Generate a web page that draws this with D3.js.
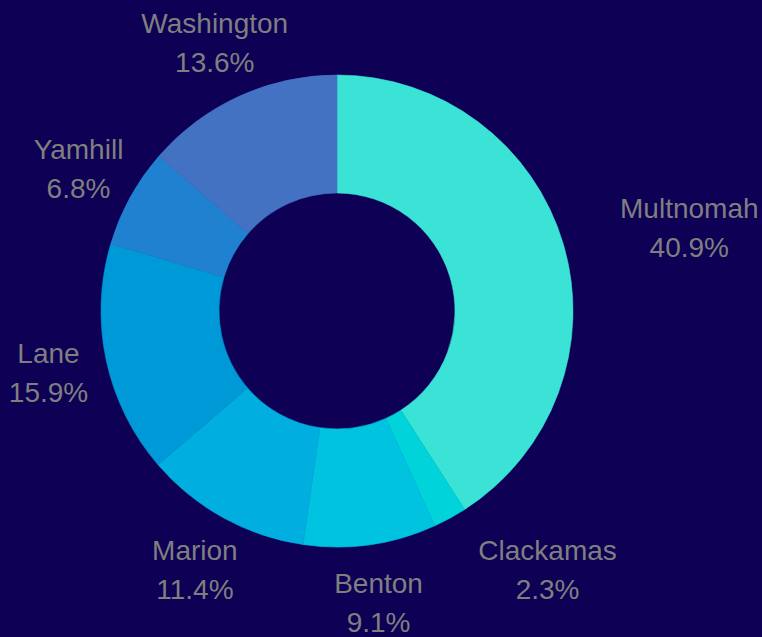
<!DOCTYPE html>
<html>
<head>
<meta charset="utf-8">
<script src="https://cdn.jsdelivr.net/npm/d3@7/dist/d3.min.js"></script>
<style>
  html, body { margin: 0; padding: 0; background: #0e0055; }
  svg { display: block; }
</style>
</head>
<body>
<svg width="762" height="637"></svg>
<script>
let counties = ["Multnomah", "Clackamas", "Benton", "Marion", "Lane", "Yamhill", "Washington"];
let shares = [40.9, 2.3, 9.1, 11.4, 15.9, 6.8, 13.6];
let colors = ["#3be3d6", "#00d3d9", "#00c3e0", "#00aee0", "#0099d8", "#2081d0", "#4472c3"];

let data = counties.map((name, i) => ({name: name, value: shares[i], color: colors[i]}));

let svg = d3.select("svg");
let width = 762, height = 637;
let cx = 337, cy = 311;
let outer = 236, inner = 118;

let pie = d3.pie()
	.value(d => d.value)
	.sort(null);

let arc = d3.arc()
	.innerRadius(inner)
	.outerRadius(outer);

let labelArc = d3.arc()
	.innerRadius(outer * 1.25)
	.outerRadius(outer * 1.25);

let g = svg.append("g")
	.attr("transform", `translate(${cx},${cy})`);

let arcs = pie(data);

g.selectAll("path").data(arcs).enter().append("path")
	.attr("d", arc)
	.attr("fill", d => d.data.color)
	.attr("stroke", d => d.data.color)
	.attr("stroke-width", 0.6);

let labels = g.selectAll("g.label").data(arcs).enter().append("g")
	.attr("class", "label")
	.attr("transform", d => `translate(${labelArc.centroid(d)})`)
	.attr("font-family", "'Liberation Sans', Arial, sans-serif")
	.attr("font-size", 28)
	.attr("fill", "#7f7f7f");

let lineTexts = labels.selectAll("text")
	.data(d => [d.data.name, d.data.value.toFixed(1) + "%"])
	.enter().append("text")
	.attr("text-anchor", "middle")
	.attr("y", (d, i) => i === 0 ? -19.5 : 19.5)
	.attr("dy", "0.35em")
	.text(d => d);

// right-hand labels: block starts at the anchor point, lines centred inside it
labels.each(function(d) {
	let mid = (d.startAngle + d.endAngle) / 2;
	let texts = d3.select(this).selectAll("text");
	let w = d3.max(texts.nodes(), n => n.getComputedTextLength());
	let shift = Math.sin(mid) > 0.4 ? w / 2 : 0;
	texts.attr("x", shift);
});
</script>
</body>
</html>
